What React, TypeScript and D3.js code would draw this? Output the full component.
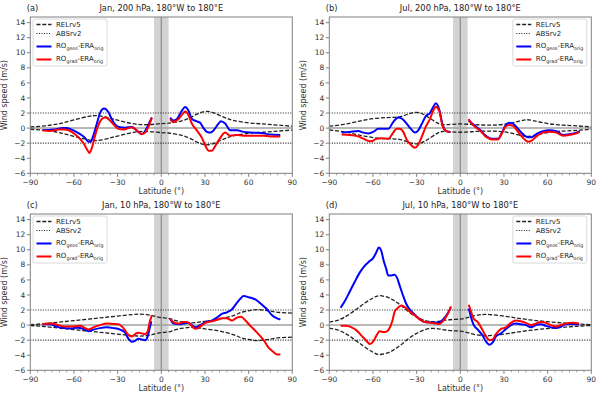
import React from 'react';
import * as d3 from 'd3';

const W = 600;
const H = 397;
const FONT = 'DejaVu Sans, sans-serif';

// axis frames (px), columns and rows of the 2x2 grid
const colX = [30.3, 329.3];
const rowY = [17, 214];
const plotW = 262;
const plotH = 156.3;

const xTicks = [-90, -60, -30, 0, 30, 60, 90];
const yTicks = [-6, -4, -2, 0, 2, 4, 6, 8, 10, 12, 14];
const absLevel = 2;

// RELrv5 envelope (upper half, mirrored below), [lat, m/s]
const relA = [[-90, 0.15], [-80, 0.3], [-70, 0.6], [-60, 1.1], [-50, 1.55], [-45, 1.65], [-40, 1.55], [-35, 1.3], [-30, 1.05], [-20, 0.6], [-10, 0.45], [0, 0.6], [5, 0.65], [10, 0.8], [15, 1.0], [20, 1.4], [25, 1.9], [30, 2.2], [35, 2.1], [40, 1.7], [45, 1.3], [50, 1.0], [60, 0.7], [70, 0.55], [80, 0.4], [90, 0.25]];
const relB = [[-90, 0.25], [-80, 0.5], [-70, 0.9], [-60, 1.25], [-50, 1.4], [-42, 1.5], [-36, 1.85], [-30, 2.1], [-25, 1.8], [-20, 1.2], [-15, 0.6], [-10, 0.45], [0, 0.55], [10, 0.45], [20, 0.4], [30, 0.5], [40, 0.9], [45, 1.1], [50, 1.0], [60, 0.6], [70, 0.4], [80, 0.3], [90, 0.15]];
const relC = [[-90, 0.05], [-80, 0.2], [-70, 0.4], [-60, 0.6], [-50, 0.8], [-40, 1.0], [-30, 1.2], [-20, 1.4], [-15, 1.45], [-10, 1.4], [-5, 1.2], [0, 1.0], [5, 0.9], [10, 0.6], [15, 0.4], [20, 0.3], [25, 0.35], [30, 0.5], [40, 0.8], [50, 1.3], [55, 1.7], [60, 1.9], [65, 2.05], [70, 2.0], [75, 1.85], [80, 1.7], [90, 1.6]];
const relD = [[-90, 0.4], [-85, 0.6], [-80, 1.0], [-75, 1.6], [-70, 2.3], [-65, 3.0], [-60, 3.6], [-56, 3.9], [-50, 3.7], [-45, 3.2], [-40, 2.5], [-35, 1.7], [-30, 1.1], [-25, 0.65], [-20, 0.45], [-15, 0.5], [-10, 0.65], [-5, 0.75], [0, 0.8], [5, 1.0], [10, 1.25], [15, 1.4], [20, 1.4], [30, 1.2], [40, 0.9], [50, 0.65], [60, 0.45], [70, 0.3], [80, 0.15], [90, 0.05]];

// RO_geos - ERA_orig, southern / northern segments
const geosAS = [[-81.5, -0.3], [-74.2, -0.2], [-67.3, 0.0], [-65, 0.0], [-60.4, -0.3], [-55.8, -0.8], [-52.4, -1.3], [-50.1, -1.8], [-48.5, -1.8], [-46.7, -1.0], [-44.4, 0.5], [-42.1, 2.0], [-39.3, 2.6], [-36.3, 2.1], [-34.1, 1.2], [-31.8, 0.5], [-28.3, 0.1], [-24.9, 0.05], [-20.3, 0.15], [-16.9, -0.3], [-13.4, -0.8], [-11.1, -0.4], [-8.8, 0.5], [-6.5, 1.4]];
const geosAN = [[6.1, 1.4], [8.4, 1.0], [10.7, 1.2], [14.1, 2.3], [16.4, 2.8], [18.7, 2.3], [21, 1.2], [24.4, 0.9], [26.7, 0.7], [29, 0.0], [31.3, -0.5], [33.6, -0.6], [35.9, -0.3], [39.3, 0.6], [40.9, 0.9], [43.9, 0.6], [47.4, -0.3], [52, -0.3], [56.5, -0.5], [63.4, -0.6], [70.3, -0.7], [74.9, -0.85], [81.7, -0.9]];
const gradAS = [[-81.5, -0.3], [-76.5, -0.4], [-70.7, -0.2], [-66.2, -0.2], [-61.6, -0.5], [-57, -1.2], [-53.5, -2.0], [-50.8, -2.9], [-49.4, -3.3], [-47.8, -2.7], [-45.5, -1.0], [-43.2, 0.4], [-40.9, 1.2], [-38.6, 1.4], [-36.3, 1.2], [-32.9, 0.5], [-29.5, -0.1], [-26, -0.2], [-22.6, 0.0], [-20.3, 0.1], [-16.9, -0.3], [-13.4, -0.8], [-11.1, -0.6], [-8.8, 0.2], [-6.5, 1.4]];
const gradAN = [[6.1, 1.2], [8.4, 0.8], [11.8, 1.2], [15.2, 2.0], [16.4, 2.2], [18.7, 1.7], [21, 0.6], [24.4, -0.3], [27.9, -1.3], [30.2, -2.3], [32.4, -3.0], [34.7, -3.0], [37, -2.4], [40.5, -1.3], [43.9, -0.6], [47.4, -1.0], [52, -0.9], [56.5, -1.0], [63.4, -1.0], [70.3, -1.0], [74.9, -1.1], [81.7, -1.1]];

const geosBS = [[-81.5, -0.6], [-75.8, -0.5], [-70.1, -0.4], [-66.7, -0.6], [-63.2, -0.7], [-59.8, -0.5], [-56.4, -0.1], [-52.9, -0.1], [-49.5, -0.1], [-46.1, 0.8], [-42.7, 1.4], [-40.4, 1.3], [-36.9, 0.6], [-33.5, -0.2], [-31.2, -0.6], [-28.9, -0.3], [-26.6, 0.5], [-23.7, 1.6], [-20.9, 2.0], [-18.6, 2.8], [-16.8, 3.3], [-14.5, 2.5], [-12.2, 0.5], [-9.5, -0.4], [-6.7, -0.5]];
const geosBN = [[5.6, 1.0], [8.8, 0.5], [13.4, -0.2], [18, -1.1], [21.4, -1.4], [26, -1.4], [28.3, -0.7], [31.2, 0.4], [33.5, 0.7], [36.2, 0.6], [39.7, -0.1], [43.1, -0.8], [46.5, -1.2], [48.8, -1.2], [52.3, -0.8], [56.8, -0.4], [61.4, -0.3], [66, -0.4], [70.6, -0.9], [75.1, -0.8], [79.7, -0.6], [82, -0.4]];
const gradBS = [[-81.5, -0.85], [-75.8, -0.9], [-70.1, -1.1], [-66.7, -1.4], [-63.2, -1.7], [-61, -1.75], [-57.5, -1.4], [-54.1, -1.35], [-49.5, -1.4], [-46.1, -0.6], [-43.8, -0.1], [-41.5, -0.1], [-39.2, -0.5], [-36.9, -1.5], [-33.5, -2.3], [-31.2, -2.6], [-28.9, -2.2], [-26.6, -1.2], [-23.7, 0.2], [-20.9, 1.2], [-18.6, 2.3], [-16.8, 2.85], [-14.5, 2.3], [-12.2, 0.3], [-9.5, -0.4], [-6.7, -0.5]];
const gradBN = [[5.6, 1.2], [8.8, 0.4], [13.4, -0.3], [18, -1.2], [21.4, -1.5], [26, -1.5], [28.3, -0.8], [31.2, 0.2], [33.5, 0.4], [36.2, 0.3], [39.7, -0.5], [43.1, -1.3], [46.5, -1.8], [48.8, -1.7], [52.3, -1.1], [56.8, -0.6], [61.4, -0.5], [66, -0.6], [70.6, -1.0], [75.1, -0.9], [79.7, -0.7], [82, -0.5]];

const geosCS = [[-81.5, 0.1], [-76.5, 0.1], [-71.9, -0.2], [-67.3, -0.4], [-62.7, -0.45], [-58.1, -0.35], [-53.5, -0.5], [-50.1, -0.8], [-46.7, -0.6], [-42.1, -0.4], [-37.5, -0.3], [-32.9, -0.4], [-28.3, -0.6], [-24.9, -1.0], [-22.6, -1.8], [-20.3, -2.2], [-18, -2.1], [-15.7, -1.8], [-13.4, -1.9], [-11.1, -2.0], [-9.5, -1.6], [-8.1, -0.5], [-6.8, 0.5]];
const geosCN = [[6.1, 0.8], [8.4, 0.2], [11.8, 0.1], [15.2, 0.2], [18.7, 0.3], [21, 0.0], [23.3, -0.3], [26.7, 0.0], [30.2, 0.4], [34.7, 0.6], [38.2, 1.0], [41.6, 1.5], [45.1, 1.7], [48.6, 2.1], [50.9, 2.7], [54.3, 3.5], [56.6, 3.85], [60, 3.7], [64.6, 3.4], [69.2, 2.7], [72.6, 2.1], [76.1, 1.3], [79.5, 0.9], [81.8, 0.75]];
const gradCS = [[-81.5, 0.05], [-78.8, 0.2], [-75.3, 0.2], [-70.7, 0.0], [-66.1, -0.2], [-61.6, -0.2], [-55.8, -0.1], [-52.4, -0.4], [-50.1, -0.6], [-46.7, -0.3], [-42.1, 0.0], [-37.5, 0.2], [-32.9, 0.15], [-29.5, 0.1], [-26, -0.4], [-22.6, -1.3], [-20.3, -1.5], [-18, -1.2], [-15.7, -1.0], [-13.4, -1.1], [-11.1, -1.2], [-9.3, -0.8], [-8.1, 0.3], [-6.5, 1.3]];
const gradCN = [[6.1, 0.8], [8.4, 0.4], [11.8, 0.2], [15.2, 0.4], [17.6, 0.4], [19.9, 0.1], [23.3, -0.5], [26.7, -0.2], [30.2, 0.3], [34.7, 0.5], [38.2, 0.7], [41.6, 0.9], [45.1, 0.9], [48.6, 0.6], [52, 1.0], [54.8, 1.1], [57.8, 0.6], [61.2, -0.1], [65.8, -1.0], [70.3, -2.0], [73.7, -3.0], [77.2, -3.6], [79.5, -3.9], [81.8, -3.9]];

const geosDS = [[-82.2, 2.3], [-79.3, 3.2], [-75.8, 4.5], [-72.4, 5.8], [-69, 7.0], [-65.6, 7.9], [-62.2, 8.5], [-59.9, 8.9], [-57.6, 9.7], [-56, 10.3], [-54.2, 9.8], [-52.6, 8.5], [-50.8, 7.4], [-49.6, 6.6], [-47.3, 6.6], [-45.1, 6.7], [-43.5, 6.3], [-41.6, 5.2], [-39.3, 3.9], [-37.1, 2.8], [-34.8, 2.1], [-31.4, 1.4], [-28, 0.8], [-24.5, 0.4], [-20, 0.35], [-15.4, 0.3], [-13.1, 0.5], [-10.8, 1.0], [-8.5, 1.6], [-6.7, 2.3]];
const geosDN = [[5.8, 2.2], [7.4, 1.0], [9, 0.1], [12, -0.6], [15.4, -1.4], [17.7, -2.2], [20, -2.6], [22.3, -2.3], [24.5, -1.5], [28, -1.1], [31.4, -0.5], [34.8, 0.0], [38.2, 0.2], [41.6, 0.1], [45.1, 0.0], [48.5, -0.3], [51.9, 0.0], [55.3, 0.1], [58.8, -0.1], [62.2, -0.3], [65.6, -0.4], [69, -0.2], [72.4, 0.1], [77, 0.15], [81.6, 0.1]];
const gradDS = [[-82.2, -0.1], [-78.1, -0.1], [-74.7, -0.3], [-71.3, -0.7], [-67.9, -1.4], [-64.4, -2.1], [-62.2, -2.5], [-59.9, -2.2], [-57.6, -1.4], [-55.3, -0.8], [-53.5, -0.9], [-51.4, -0.9], [-48.9, -0.5], [-46.6, 0.6], [-45.1, 1.8], [-42.8, 2.3], [-40.5, 2.6], [-37.6, 2.3], [-34.8, 1.8], [-31.4, 1.3], [-28, 0.8], [-24.5, 0.4], [-20, 0.3], [-16.5, 0.2], [-14.3, 0.15], [-12, 0.5], [-9.7, 1.1], [-7.4, 2.0], [-6.3, 2.5]];
const gradDN = [[5.8, 2.7], [7.4, 1.8], [9, 0.9], [12, 0.4], [15.4, -0.7], [17.7, -1.5], [20, -2.0], [22.3, -1.9], [24.5, -1.2], [28, -0.5], [31.4, -0.3], [34.8, 0.3], [38.2, 0.6], [41.6, 0.5], [45.1, 0.3], [48.5, 0.0], [51.9, 0.2], [55.3, 0.4], [58.8, 0.3], [62.2, 0.0], [65.6, -0.2], [69, 0.0], [72.4, 0.2], [77, 0.3], [81.6, 0.2]];

const panels = [
  { tag: '(a)', title: 'Jan, 200 hPa, 180°W to 180°E', col: 0, row: 0, rel: relA, geos: [geosAS, geosAN], grad: [gradAS, gradAN], legendRight: false },
  { tag: '(b)', title: 'Jul, 200 hPa, 180°W to 180°E', col: 1, row: 0, rel: relB, geos: [geosBS, geosBN], grad: [gradBS, gradBN], legendRight: true },
  { tag: '(c)', title: 'Jan, 10 hPa, 180°W to 180°E', col: 0, row: 1, rel: relC, geos: [geosCS, geosCN], grad: [gradCS, gradCN], legendRight: false },
  { tag: '(d)', title: 'Jul, 10 hPa, 180°W to 180°E', col: 1, row: 1, rel: relD, geos: [geosDS, geosDN], grad: [gradDS, gradDN], legendRight: true },
];

const fmt = (v: number) => (v < 0 ? '\u2212' + Math.abs(v) : String(v));

function Legend({ x, y }: { x: number; y: number }) {
  const rows = [
    { dy: 5.5, stroke: '#222', dash: '4,1.8', w: 1.3, label: 'RELrv5' },
    { dy: 14.5, stroke: '#222', dash: '1,1.5', w: 1.1, label: 'ABSrv2' },
    { dy: 27.5, stroke: '#0000ff', dash: null, w: 2, label: ['geos'] },
    { dy: 40.5, stroke: '#ff0000', dash: null, w: 2, label: ['grad'] },
  ];
  return (
    <g transform={`translate(${x},${y})`} fontFamily={FONT}>
      <rect x={0} y={0} width={74} height={47} rx={2} fill="#fff" fillOpacity={0.85} stroke="#d0d0d0" strokeWidth={0.8} />
      {rows.map((r, i) => (
        <g key={i}>
          <line x1={3.5} x2={18.5} y1={r.dy} y2={r.dy} stroke={r.stroke} strokeWidth={r.w} strokeDasharray={r.dash || undefined} />
          {typeof r.label === 'string' ? (
            <text x={23} y={r.dy + 2.5} fontSize={7} fill="#222">{r.label}</text>
          ) : (
            <text x={23} y={r.dy + 1.5} fontSize={7} fill="#222">
              RO<tspan fontSize={4.8} dy={1.8}>{r.label[0]}</tspan>
              <tspan dy={-1.8}>-ERA</tspan>
              <tspan fontSize={4.8} dy={1.8}>orig</tspan>
            </text>
          )}
        </g>
      ))}
    </g>
  );
}

function Panel({ p }: { p: typeof panels[number] }) {
  const left = colX[p.col];
  const top = rowY[p.row];
  const x = d3.scaleLinear().domain([-90, 90]).range([0, plotW]);
  const y = d3.scaleLinear().domain([-6, 14.75]).range([plotH, 0]);
  const smooth = d3.line<number[]>().x(d => x(d[0])).y(d => y(d[1])).curve(d3.curveNatural);
  const wiggle = d3.line<number[]>().x(d => x(d[0])).y(d => y(d[1])).curve(d3.curveMonotoneX);
  const relLow = p.rel.map(d => [d[0], -d[1]]);
  const clipId = `clip-${p.col}-${p.row}`;
  const minor = d3.range(-90, 91, 5).filter(v => v % 30 !== 0);
  return (
    <g transform={`translate(${left},${top})`} fontFamily={FONT}>
      <defs>
        <clipPath id={clipId}><rect width={plotW} height={plotH} /></clipPath>
      </defs>
      <g clipPath={`url(#${clipId})`}>
        <rect x={x(-5)} y={0} width={x(5) - x(-5)} height={plotH} fill="#d3d3d3" />
        <line x1={x(0)} x2={x(0)} y1={0} y2={plotH} stroke="#8c8c8c" strokeWidth={1.2} />
        <line x1={0} x2={plotW} y1={y(0)} y2={y(0)} stroke="#a0a0a0" strokeWidth={1.5} />
        {[absLevel, -absLevel].map(v => (
          <line key={v} x1={0} x2={plotW} y1={y(v)} y2={y(v)} stroke="#222" strokeWidth={1.1} strokeDasharray="1,1.5" />
        ))}
        <path d={smooth(p.rel) || ''} fill="none" stroke="#222" strokeWidth={1.3} strokeDasharray="4,1.8" />
        <path d={smooth(relLow) || ''} fill="none" stroke="#222" strokeWidth={1.3} strokeDasharray="4,1.8" />
        {p.geos.map((s, i) => (
          <path key={'g' + i} d={wiggle(s) || ''} fill="none" stroke="#0000ff" strokeWidth={2} strokeLinejoin="round" />
        ))}
        {p.grad.map((s, i) => (
          <path key={'r' + i} d={wiggle(s) || ''} fill="none" stroke="#ff0000" strokeWidth={2} strokeLinejoin="round" />
        ))}
      </g>
      <rect width={plotW} height={plotH} fill="none" stroke="#808080" strokeWidth={1} />
      {xTicks.map(t => (
        <g key={t} transform={`translate(${x(t)},${plotH})`}>
          <line y2={3.5} stroke="#808080" />
          <text y={11.5} textAnchor="middle" fontSize={7.5} fill="#333">{fmt(t)}</text>
        </g>
      ))}
      {minor.map(t => (
        <line key={t} x1={x(t)} x2={x(t)} y1={plotH} y2={plotH + 2} stroke="#808080" strokeWidth={0.8} />
      ))}
      {yTicks.map(t => (
        <g key={t} transform={`translate(0,${y(t)})`}>
          <line x2={-3.5} stroke="#808080" />
          <text x={-5} dy="0.35em" textAnchor="end" fontSize={7.5} fill="#333">{fmt(t)}</text>
        </g>
      ))}
      <text x={plotW / 2} y={plotH + 21} textAnchor="middle" fontSize={8} fill="#333">Latitude (°)</text>
      <text transform={`translate(${-23.5},${plotH / 2}) rotate(-90)`} textAnchor="middle" fontSize={8} fill="#333">Wind speed (m/s)</text>
      <text x={-3.5} y={-6} fontSize={8.3} fill="#222">{p.tag}</text>
      <text x={plotW / 2} y={-6} textAnchor="middle" fontSize={8.3} fill="#222">{p.title}</text>
      <Legend x={p.legendRight ? plotW - 78.5 : 2.7} y={2} />
    </g>
  );
}

export default function App() {
  return (
    <svg width={W} height={H} style={{ position: 'absolute', left: 0, top: 0 }}>
      <rect width={W} height={H} fill="#fff" />
      {panels.map(p => <Panel key={p.tag} p={p} />)}
    </svg>
  );
}
